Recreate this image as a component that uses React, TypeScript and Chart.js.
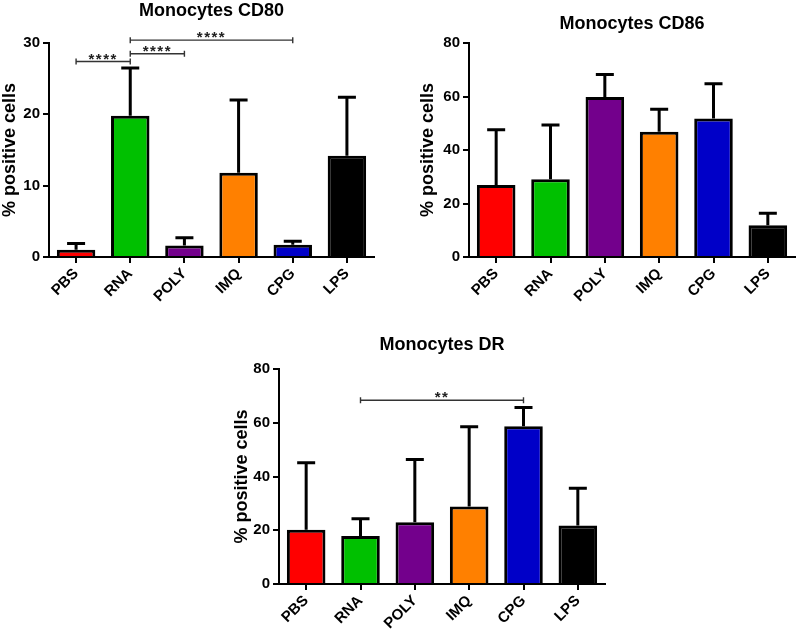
import React, { useEffect, useRef } from "react";
import { Chart, registerables } from "chart.js";

Chart.register(...registerables);

const FONT = "'Liberation Sans', Arial, Helvetica, sans-serif";

const categories = ["PBS", "RNA", "POLY", "IMQ", "CPG", "LPS"];
const barColors = ["#FF0000", "#00C000", "#73008C", "#FF8000", "#0000C8", "#000000"];

const cd80Means = [1.0, 19.8, 1.6, 11.8, 1.7, 14.2];
const cd80Upper = [1.9, 26.5, 2.7, 22.0, 2.2, 22.4];
const cd80Sig = [
  { from: 0, to: 1, y: 27.4, label: "****" },
  { from: 1, to: 2, y: 28.5, label: "****" },
  { from: 1, to: 4, y: 30.4, label: "****" },
];

const cd86Means = [26.9, 29.1, 59.8, 46.8, 51.8, 11.9];
const cd86Upper = [47.6, 49.3, 68.2, 55.2, 64.8, 16.4];
const cd86Sig: { from: number; to: number; y: number; label: string }[] = [];

const drMeans = [20.2, 17.9, 23.0, 28.8, 58.7, 21.8];
const drUpper = [45.1, 24.3, 46.3, 58.5, 65.7, 35.6];
const drSig = [{ from: 1, to: 4, y: 68.4, label: "**" }];

const yTitle = "% positive cells";

type Sig = { from: number; to: number; y: number; label: string };
type Spec = {
  title: string;
  means: number[];
  upper: number[];
  sig: Sig[];
  yMax: number;
  yStep: number;
  box: { left: number; top: number; width: number; height: number };
  yWidth: number;
  xHeight: number;
  padTop: number;
  padRight: number;
  titleY: number;
  yTitleOffset: number;
};

const specs: Spec[] = [
  {
    title: "Monocytes CD80",
    means: cd80Means,
    upper: cd80Upper,
    sig: cd80Sig,
    yMax: 30,
    yStep: 10,
    box: { left: 0, top: 0, width: 400, height: 320 },
    yWidth: 49,
    xHeight: 63,
    padTop: 43,
    padRight: 26,
    titleY: 11,
    yTitleOffset: -39,
  },
  {
    title: "Monocytes CD86",
    means: cd86Means,
    upper: cd86Upper,
    sig: cd86Sig,
    yMax: 80,
    yStep: 20,
    box: { left: 400, top: 0, width: 397, height: 320 },
    yWidth: 69,
    xHeight: 63,
    padTop: 43,
    padRight: 2,
    titleY: 24,
    yTitleOffset: -41,
  },
  {
    title: "Monocytes DR",
    means: drMeans,
    upper: drUpper,
    sig: drSig,
    yMax: 80,
    yStep: 20,
    box: { left: 200, top: 320, width: 420, height: 315 },
    yWidth: 79,
    xHeight: 51,
    padTop: 49,
    padRight: 15,
    titleY: 25,
    yTitleOffset: -37,
  },
];

function makeOverlay(spec: Spec) {
  return {
    id: "overlay",
    afterDatasetsDraw(chart: any) {
      const ctx = chart.ctx as CanvasRenderingContext2D;
      const xs = chart.scales.x;
      const ys = chart.scales.y;
      ctx.save();
      // error bars (upper only)
      ctx.strokeStyle = "#000";
      ctx.lineWidth = 3;
      ctx.lineCap = "butt";
      spec.upper.forEach((u, i) => {
        const px = xs.getPixelForValue(i);
        const top = ys.getPixelForValue(u);
        const base = ys.getPixelForValue(spec.means[i]);
        ctx.beginPath();
        ctx.moveTo(px, base);
        ctx.lineTo(px, top);
        ctx.moveTo(px - 9, top);
        ctx.lineTo(px + 9, top);
        ctx.stroke();
      });
      // significance brackets
      ctx.strokeStyle = "#333";
      ctx.fillStyle = "#222";
      ctx.lineWidth = 1.4;
      ctx.font = `bold 15px ${FONT}`;
      ctx.textAlign = "center";
      ctx.textBaseline = "alphabetic";
      try {
        (ctx as any).letterSpacing = "1.5px";
      } catch (e) {}
      spec.sig.forEach((s) => {
        const x1 = xs.getPixelForValue(s.from);
        const x2 = xs.getPixelForValue(s.to);
        const py = ys.getPixelForValue(s.y);
        ctx.beginPath();
        ctx.moveTo(x1, py);
        ctx.lineTo(x2, py);
        ctx.moveTo(x1, py - 3);
        ctx.lineTo(x1, py + 3);
        ctx.moveTo(x2, py - 3);
        ctx.lineTo(x2, py + 3);
        ctx.stroke();
        ctx.fillText(s.label, (x1 + x2) / 2, py + 2);
      });
      ctx.restore();
    },
    afterDraw(chart: any) {
      const ctx = chart.ctx as CanvasRenderingContext2D;
      const area = chart.chartArea;
      ctx.save();
      ctx.fillStyle = "#000";
      ctx.textAlign = "center";
      ctx.textBaseline = "middle";
      ctx.font = `bold 18px ${FONT}`;
      ctx.fillText(spec.title, (area.left + area.right) / 2, spec.titleY);
      ctx.translate(area.left + spec.yTitleOffset, (area.top + area.bottom) / 2);
      ctx.rotate(-Math.PI / 2);
      ctx.font = `bold 18px ${FONT}`;
      ctx.fillText(yTitle, 0, 0);
      ctx.restore();
    },
  };
}

function Panel({ spec }: { spec: Spec }) {
  const ref = useRef<HTMLCanvasElement | null>(null);
  useEffect(() => {
    if (!ref.current) return;
    const chart = new Chart(ref.current, {
      type: "bar",
      data: {
        labels: categories,
        datasets: [
          {
            data: spec.means,
            backgroundColor: barColors,
            borderColor: "#000",
            borderWidth: 3,
            barPercentage: 0.71,
            categoryPercentage: 1,
          },
        ],
      },
      options: {
        responsive: false,
        animation: false,
        devicePixelRatio: 1,
        layout: { padding: { top: spec.padTop, right: spec.padRight, left: 0, bottom: 0 } },
        plugins: {
          legend: { display: false },
          tooltip: { enabled: false },
          title: { display: false },
        },
        scales: {
          x: {
            type: "category",
            offset: true,
            afterFit: (s: any) => {
              s.height = spec.xHeight;
            },
            border: { display: true, color: "#000", width: 2 },
            grid: {
              offset: false,
              drawOnChartArea: false,
              drawTicks: true,
              tickLength: 6,
              tickColor: "#000",
              tickWidth: 2,
              color: "#000",
              lineWidth: 2,
            },
            ticks: {
              color: "#000",
              font: { family: FONT, size: 15, weight: "bold" },
              minRotation: 45,
              maxRotation: 45,
              autoSkip: false,
              padding: 2,
            },
          },
          y: {
            type: "linear",
            min: 0,
            max: spec.yMax,
            afterFit: (s: any) => {
              s.width = spec.yWidth;
            },
            border: { display: true, color: "#000", width: 2 },
            grid: {
              drawOnChartArea: false,
              drawTicks: true,
              tickLength: 6,
              tickColor: "#000",
              tickWidth: 2,
              color: "#000",
              lineWidth: 2,
            },
            ticks: {
              stepSize: spec.yStep,
              color: "#000",
              font: { family: FONT, size: 15, weight: "bold" },
              padding: 3,
            },
          },
        },
      },
      plugins: [makeOverlay(spec)],
    } as any);
    return () => chart.destroy();
  }, [spec]);
  return (
    <canvas
      ref={ref}
      width={spec.box.width}
      height={spec.box.height}
      style={{
        position: "absolute",
        left: spec.box.left,
        top: spec.box.top,
        width: spec.box.width,
        height: spec.box.height,
      }}
    />
  );
}

export default function App() {
  return (
    <div
      style={{
        position: "absolute",
        left: 0,
        top: 0,
        width: 797,
        height: 635,
        background: "#fff",
        overflow: "hidden",
      }}
    >
      {specs.map((s, i) => (
        <Panel key={i} spec={s} />
      ))}
    </div>
  );
}
